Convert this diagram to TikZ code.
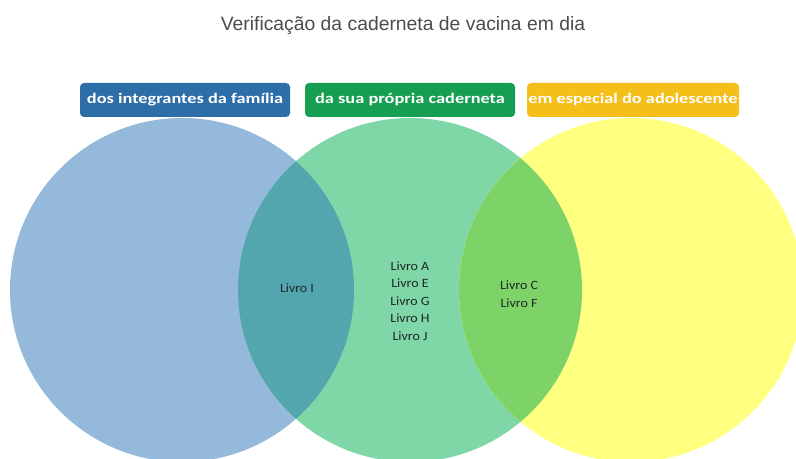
\documentclass[tikz,border=0pt]{standalone}
\usepackage{fontspec}
\setmainfont{Carlito}
\newfontfamily\titlefont{Liberation Sans}
\newfontfamily\tagfont[FakeStretch=1.25]{Carlito}
\newfontfamily\bookfont[FakeStretch=1.1]{Carlito}
\usetikzlibrary{positioning}
\definecolor{circ_blue}{RGB}{149,185,219}
\definecolor{circ_green}{RGB}{127,214,166}
\definecolor{circ_yellow}{RGB}{255,255,128}
\definecolor{over_bg}{RGB}{84,166,174}
\definecolor{over_gy}{RGB}{126,211,104}
\definecolor{tag_blue}{RGB}{46,110,168}
\definecolor{tag_green}{RGB}{22,158,82}
\definecolor{tag_yellow}{RGB}{245,190,25}
\definecolor{txt_dark}{RGB}{30,40,40}

\begin{document}
\begin{tikzpicture}[x=0.75pt,y=-0.75pt]
    \tikzstyle{tag}=[rounded corners=3pt, minimum width=157.5pt, minimum height=25.5pt, inner sep=1pt, text=white, font=\tagfont\bfseries\fontsize{11}{13}\selectfont]
    \tikzstyle{book}=[align=center, text=txt_dark, font=\bookfont\fontsize{9.5}{13.1}\selectfont]

    \clip (0,0) rectangle (796,459);
    \fill[white] (0,0) rectangle (796,459);

    % the three sets
    \fill[circ_blue]   (182,290) circle[radius=129pt];
    \fill[circ_green]  (410,290) circle[radius=129pt];
    \fill[circ_yellow] (631,290) circle[radius=129pt];
    \begin{scope}
      \clip (182,290) circle[radius=129pt];
      \fill[over_bg] (410,290) circle[radius=129pt];
    \end{scope}
    \begin{scope}
      \clip (631,290) circle[radius=129pt];
      \fill[over_gy] (410,290) circle[radius=129pt];
    \end{scope}

    \node[anchor=base, text=black!70, font=\titlefont\fontsize{14.5}{17}\selectfont] (title) at (403,31) {Verificação da caderneta de vacina em dia};

    \node[tag, fill=tag_blue]   (fam)  at (185,100) {dos integrantes da família};
    \node[tag, fill=tag_green]  (own)  at (410,100) {da sua própria caderneta};
    \node[tag, fill=tag_yellow] (teen) at (633,100) {em especial do adolescente};

    \node[book] (i)   at (297,288) {Livro I};
    \node[book] (mid) at (410,301) {Livro A\\Livro E\\Livro G\\Livro H\\Livro J};
    \node[book] (cf)  at (519,294) {Livro C\\Livro F};
\end{tikzpicture}
\end{document}
